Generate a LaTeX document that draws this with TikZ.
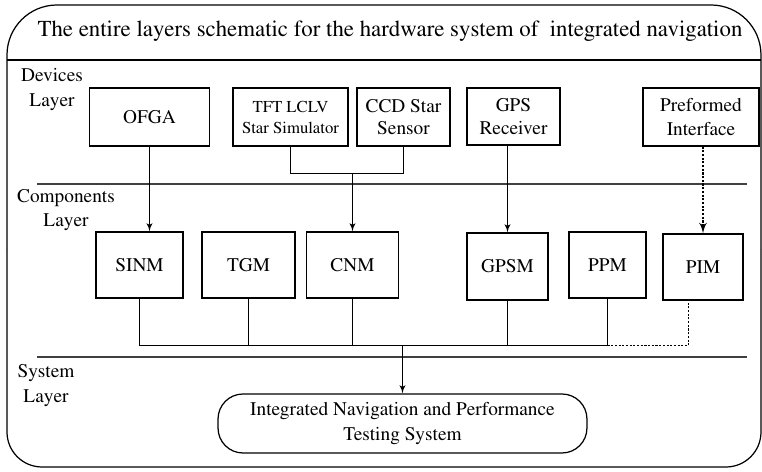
\documentclass[tikz,border=0pt]{standalone}
\usepackage[T1]{fontenc}
\usepackage{mathptmx}
\usetikzlibrary{arrows,positioning,calc}

\begin{document}
\begin{tikzpicture}[x=0.02cm, y=-0.02cm, >=latex', line width=0.7pt, font=\fontsize{11}{13}\selectfont]
	\tikzstyle{block}=[draw=black, rectangle, align=center, inner sep=1pt]
	\tikzstyle{layerlabel}=[align=center, inner sep=0pt, font=\fontsize{11}{13.8}\selectfont]
	\tikzstyle{sepline}=[draw=black!75, line width=1pt]
	\tikzstyle{link}=[draw=black, line width=0.6pt]
	\tikzstyle{dotlink}=[draw=black, dash pattern=on 1.2pt off 0.9pt]
	\useasboundingbox (0,0) rectangle (762,472);
	% outer frame and title
	\draw (7,250) [rounded corners=0.7cm] -- (7,467) -- (761,467) -- (761,250);
	\draw (761,250) [rounded corners=1cm] -- (761,5) -- (7,5) -- (7,250);
	\draw (7,60) -- (761,60);
	\node[font=\fontsize{13}{15}\selectfont] (title) at (390,31) {The entire layers schematic for the hardware system of~ integrated navigation};
	% layer separators
	\draw[sepline] (37,184) -- (747,184);
	\draw[sepline] (37,357) -- (747,357);
	\node[layerlabel] (devlabel)  at (52,89.5)  {Devices\\Layer};
	\node[layerlabel] (comlabel)  at (66,210)   {Components\\Layer};
	\node[layerlabel] (syslabel)  at (46,385.5) {System\\Layer};
	% devices layer
	\node[block, minimum width=2.4cm,  minimum height=1.16cm] (OFGA) at (149.5,117)   {OFGA};
	\node[block, minimum width=2.3cm,  minimum height=1.16cm, font=\fontsize{9.5}{12}\selectfont] (TFT) at (290.5,117) {TFT LCLV\\Star Simulator};
	\node[block, minimum width=1.86cm, minimum height=1.16cm] (CCD)  at (403.5,117) {CCD Star\\Sensor};
	\node[block, minimum width=1.86cm, minimum height=1.14cm] (GPS)  at (513.5,116.5) {GPS\\Receiver};
	\node[block, minimum width=2.32cm, minimum height=1.16cm, font=\fontsize{11}{13.8}\selectfont] (PREF) at (701,117) {Preformed\\Interface};
	% components layer
	\node[block, minimum width=1.74cm, minimum height=1.32cm] (SINM) at (139.5,265) {SINM};
	\node[block, minimum width=1.86cm, minimum height=1.32cm] (TGM)  at (248.5,265) {TGM};
	\node[block, minimum width=1.84cm, minimum height=1.32cm] (CNM)  at (352.5,265) {CNM};
	\node[block, minimum width=1.62cm, minimum height=1.34cm] (GPSM) at (507.5,266.5) {GPSM};
	\node[block, minimum width=1.54cm, minimum height=1.32cm] (PPM)  at (607.5,265) {PPM};
	\node[block, minimum width=1.6cm,  minimum height=1.32cm] (PIM)  at (703,267)   {PIM};
	% system layer
	\node[block, rounded corners=0.5cm, minimum width=7.38cm, minimum height=1.18cm, font=\fontsize{11}{14}\selectfont] (INPTS) at (402.5,423.5) {Integrated Navigation and Performance\\Testing System};
	% junctions
	\coordinate (starj) at (352.5,173.5);
	\coordinate (bus)   at (0,345.5);
	\coordinate (pimdrop) at (688.5,300);
	% connections devices -> components
	\draw[link,->] (OFGA.south) -- (OFGA.south |- SINM.north);
	\draw[link] (TFT.south) |- (CCD.south |- starj) -- (CCD.south);
	\draw[link,->] (starj) -- (CNM.north);
	\draw[link,->] (GPSM.north |- GPS.south) -- (GPSM.north);
	\draw[dotlink,->, line width=1.1pt, >={latex'[scale=1.2]}] (PIM.north |- PREF.south) -- (PIM.north);
	% bus -> system
	\draw[link] (SINM.south) |- (PPM.south |- bus) -- (PPM.south);
	\draw[link] (TGM.south)  -- (TGM.south |- bus);
	\draw[link] (CNM.south)  -- (CNM.south |- bus);
	\draw[link] (GPSM.south) -- (GPSM.south |- bus);
	\draw[dotlink, line width=0.9pt] (PPM.south |- bus) -| (pimdrop);
	\draw[link,->] (INPTS.north |- bus) -- (INPTS.north);
\end{tikzpicture}
\end{document}
